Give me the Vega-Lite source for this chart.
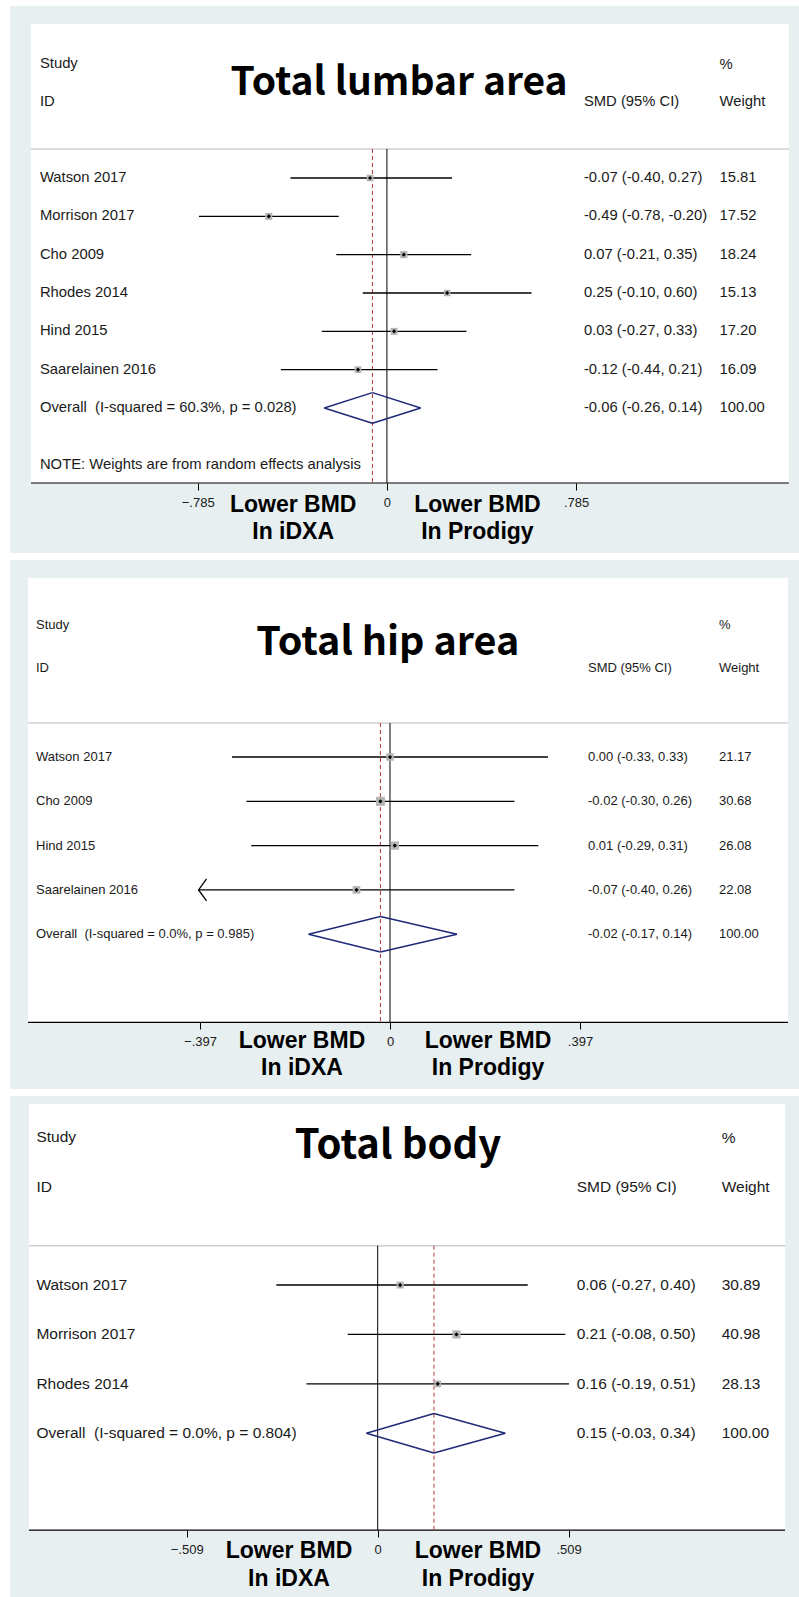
{
  "$schema": "https://vega.github.io/schema/vega-lite/v6.json",
  "background": "#ffffff",
  "padding": {"left": 10, "top": 6, "right": 0, "bottom": 0},
  "spacing": 7,
  "bounds": "flush",
  "resolve": {"scale": {"size": "independent"}},
  "config": {
    "view": {"stroke": null, "fill": "#e7eff1"},
    "axis": {"grid": false, "domain": false, "tickColor": "#000000", "tickSize": 7, "tickWidth": 1, "labelFont": "Liberation Sans", "labelFontSize": 13, "labelColor": "#1a1a1a", "labelPadding": 6, "labelFlush": false, "labelOverlap": false, "zindex": 1},
    "text": {"font": "Liberation Sans", "color": "#1a1a1a"}
  },
  "datasets": {
    "p1": [
      {"study": "Watson 2017", "est": -0.07, "lo": -0.40, "hi": 0.27, "weight": 15.81, "order": 0, "type": "study", "label": "-0.07 (-0.40, 0.27)"},
      {"study": "Morrison 2017", "est": -0.49, "lo": -0.78, "hi": -0.20, "weight": 17.52, "order": 1, "type": "study", "label": "-0.49 (-0.78, -0.20)"},
      {"study": "Cho 2009", "est": 0.07, "lo": -0.21, "hi": 0.35, "weight": 18.24, "order": 2, "type": "study", "label": "0.07 (-0.21, 0.35)"},
      {"study": "Rhodes 2014", "est": 0.25, "lo": -0.10, "hi": 0.60, "weight": 15.13, "order": 3, "type": "study", "label": "0.25 (-0.10, 0.60)"},
      {"study": "Hind 2015", "est": 0.03, "lo": -0.27, "hi": 0.33, "weight": 17.20, "order": 4, "type": "study", "label": "0.03 (-0.27, 0.33)"},
      {"study": "Saarelainen 2016", "est": -0.12, "lo": -0.44, "hi": 0.21, "weight": 16.09, "order": 5, "type": "study", "label": "-0.12 (-0.44, 0.21)"},
      {"study": "Overall\u00a0\u00a0(I-squared = 60.3%, p = 0.028)", "est": -0.06, "lo": -0.26, "hi": 0.14, "weight": 100.00, "order": 6, "type": "overall", "label": "-0.06 (-0.26, 0.14)"}
    ],
    "p2": [
      {"study": "Watson 2017", "est": 0.00, "lo": -0.33, "hi": 0.33, "weight": 21.17, "order": 0, "type": "study", "label": "0.00 (-0.33, 0.33)"},
      {"study": "Cho 2009", "est": -0.02, "lo": -0.30, "hi": 0.26, "weight": 30.68, "order": 1, "type": "study", "label": "-0.02 (-0.30, 0.26)"},
      {"study": "Hind 2015", "est": 0.01, "lo": -0.29, "hi": 0.31, "weight": 26.08, "order": 2, "type": "study", "label": "0.01 (-0.29, 0.31)"},
      {"study": "Saarelainen 2016", "est": -0.07, "lo": -0.40, "hi": 0.26, "weight": 22.08, "order": 3, "type": "study", "label": "-0.07 (-0.40, 0.26)"},
      {"study": "Overall\u00a0\u00a0(I-squared = 0.0%, p = 0.985)", "est": -0.02, "lo": -0.17, "hi": 0.14, "weight": 100.00, "order": 4, "type": "overall", "label": "-0.02 (-0.17, 0.14)"}
    ],
    "p3": [
      {"study": "Watson 2017", "est": 0.06, "lo": -0.27, "hi": 0.40, "weight": 30.89, "order": 0, "type": "study", "label": "0.06 (-0.27, 0.40)"},
      {"study": "Morrison 2017", "est": 0.21, "lo": -0.08, "hi": 0.50, "weight": 40.98, "order": 1, "type": "study", "label": "0.21 (-0.08, 0.50)"},
      {"study": "Rhodes 2014", "est": 0.16, "lo": -0.19, "hi": 0.51, "weight": 28.13, "order": 2, "type": "study", "label": "0.16 (-0.19, 0.51)"},
      {"study": "Overall\u00a0\u00a0(I-squared = 0.0%, p = 0.804)", "est": 0.15, "lo": -0.03, "hi": 0.34, "weight": 100.00, "order": 3, "type": "overall", "label": "0.15 (-0.03, 0.34)"}
    ]
  },
  "vconcat": [
    {
      "width": 789, "height": 547,
      "data": {"name": "p1"},
      "resolve": {"axis": {"x": "independent", "y": "independent"}},
      "layer": [
        {"data": {"values": [{}]}, "mark": {"type": "rect", "color": "#ffffff"},
         "encoding": {
           "x": {"datum": -1.477, "type": "quantitative", "scale": {"domain": [-1.564, 1.710], "nice": false, "zero": false},
                 "axis": {"orient": "bottom", "values": [-0.785, 0, 0.785], "labelExpr": "replace(format(datum.value, '.3~f'), '0.', '.')", "title": null, "offset": -70}},
           "x2": {"datum": 1.668},
           "y": {"datum": -4.018, "type": "quantitative", "scale": {"domain": [-4.487, 9.783], "reverse": true, "nice": false, "zero": false}, "axis": null},
           "y2": {"datum": 7.957}}},
        {"data": {"values": [{}]}, "mark": {"type": "rule", "color": "#d0d0d0", "strokeWidth": 1.5},
         "encoding": {"x": {"datum": -1.477, "type": "quantitative", "axis": null}, "x2": {"datum": 1.668}, "y": {"datum": -0.757, "type": "quantitative", "axis": null}}},
        {"data": {"values": [{}]}, "mark": {"type": "rule", "color": "#000000", "strokeWidth": 1.2},
         "encoding": {"x": {"datum": -1.477, "type": "quantitative", "axis": null}, "x2": {"datum": 1.668}, "y": {"datum": 7.957, "type": "quantitative", "axis": null}}},
        {"data": {"values": [{}]}, "mark": {"type": "rule", "color": "#000000", "strokeWidth": 1},
         "encoding": {"x": {"datum": 0, "type": "quantitative", "axis": null}, "y": {"datum": -0.757, "type": "quantitative", "axis": null}, "y2": {"datum": 7.957}}},
        {"transform": [{"filter": "datum.type == 'overall'"}], "mark": {"type": "rule", "color": "#b8363c", "strokeWidth": 1, "strokeDash": [4, 3]},
         "encoding": {"x": {"field": "est", "type": "quantitative", "axis": null}, "y": {"datum": -0.757, "type": "quantitative", "axis": null}, "y2": {"datum": 7.957}}},
        {"transform": [{"filter": "datum.type == 'study'"}], "mark": {"type": "rule", "color": "#000000", "strokeWidth": 1.3},
         "encoding": {"x": {"field": "lo", "type": "quantitative", "axis": null}, "x2": {"field": "hi"}, "y": {"field": "order", "type": "quantitative", "axis": null}}},
        {"transform": [{"filter": "datum.type == 'study'"}], "mark": {"type": "point", "shape": "square", "filled": true, "color": "#b5b5b5", "opacity": 1},
         "encoding": {"x": {"field": "est", "type": "quantitative", "axis": null}, "y": {"field": "order", "type": "quantitative", "axis": null},
                      "size": {"field": "weight", "type": "quantitative", "scale": {"domain": [0, 100], "range": [0, 280]}, "legend": null}}},
        {"transform": [{"filter": "datum.type == 'study'"}], "mark": {"type": "point", "shape": "diamond", "filled": true, "color": "#000000", "size": 18, "opacity": 1},
         "encoding": {"x": {"field": "est", "type": "quantitative", "axis": null}, "y": {"field": "order", "type": "quantitative", "axis": null}}},
        {"transform": [{"filter": "datum.type == 'overall'"}], "mark": {"type": "rule", "color": "#1f2a78", "strokeWidth": 1.5},
         "encoding": {"x": {"field": "lo", "type": "quantitative", "axis": null}, "x2": {"field": "est"}, "y": {"datum": 6, "type": "quantitative", "axis": null}, "y2": {"datum": 5.6}}},
        {"transform": [{"filter": "datum.type == 'overall'"}], "mark": {"type": "rule", "color": "#1f2a78", "strokeWidth": 1.5},
         "encoding": {"x": {"field": "est", "type": "quantitative", "axis": null}, "x2": {"field": "hi"}, "y": {"datum": 5.6, "type": "quantitative", "axis": null}, "y2": {"datum": 6}}},
        {"transform": [{"filter": "datum.type == 'overall'"}], "mark": {"type": "rule", "color": "#1f2a78", "strokeWidth": 1.5},
         "encoding": {"x": {"field": "hi", "type": "quantitative", "axis": null}, "x2": {"field": "est"}, "y": {"datum": 6, "type": "quantitative", "axis": null}, "y2": {"datum": 6.4}}},
        {"transform": [{"filter": "datum.type == 'overall'"}], "mark": {"type": "rule", "color": "#1f2a78", "strokeWidth": 1.5},
         "encoding": {"x": {"field": "est", "type": "quantitative", "axis": null}, "x2": {"field": "lo"}, "y": {"datum": 6.4, "type": "quantitative", "axis": null}, "y2": {"datum": 6}}},
        {"mark": {"type": "text", "align": "left", "baseline": "middle", "fontSize": 14.8},
         "encoding": {"x": {"datum": -1.4398, "type": "quantitative", "axis": null}, "y": {"field": "order", "type": "quantitative", "axis": null}, "text": {"field": "study"}}},
        {"mark": {"type": "text", "align": "left", "baseline": "middle", "fontSize": 14.8},
         "encoding": {"x": {"datum": 0.8174, "type": "quantitative", "axis": null}, "y": {"field": "order", "type": "quantitative", "axis": null}, "text": {"field": "label"}}},
        {"mark": {"type": "text", "align": "left", "baseline": "middle", "fontSize": 14.8},
         "encoding": {"x": {"datum": 1.38, "type": "quantitative", "axis": null}, "y": {"field": "order", "type": "quantitative", "axis": null}, "text": {"field": "weight", "type": "quantitative", "format": ".2f"}}},
        {"data": {"values": [{}]}, "mark": {"type": "text", "align": "left", "baseline": "middle", "fontSize": 14.8, "text": "Study"},
         "encoding": {"x": {"datum": -1.4398, "type": "quantitative", "axis": null}, "y": {"datum": -2.974, "type": "quantitative", "axis": null}}},
        {"data": {"values": [{}]}, "mark": {"type": "text", "align": "left", "baseline": "middle", "fontSize": 14.8, "text": "ID"},
         "encoding": {"x": {"datum": -1.4398, "type": "quantitative", "axis": null}, "y": {"datum": -1.983, "type": "quantitative", "axis": null}}},
        {"data": {"values": [{}]}, "mark": {"type": "text", "align": "left", "baseline": "middle", "fontSize": 14.8, "text": "SMD (95% CI)"},
         "encoding": {"x": {"datum": 0.8174, "type": "quantitative", "axis": null}, "y": {"datum": -1.97, "type": "quantitative", "axis": null}}},
        {"data": {"values": [{}]}, "mark": {"type": "text", "align": "left", "baseline": "middle", "fontSize": 14.8, "text": "%"},
         "encoding": {"x": {"datum": 1.38, "type": "quantitative", "axis": null}, "y": {"datum": -2.95, "type": "quantitative", "axis": null}}},
        {"data": {"values": [{}]}, "mark": {"type": "text", "align": "left", "baseline": "middle", "fontSize": 14.8, "text": "Weight"},
         "encoding": {"x": {"datum": 1.38, "type": "quantitative", "axis": null}, "y": {"datum": -1.99, "type": "quantitative", "axis": null}}},
        {"data": {"values": [{}]}, "mark": {"type": "text", "align": "left", "baseline": "middle", "fontSize": 14.8, "text": "NOTE: Weights are from random effects analysis"},
         "encoding": {"x": {"datum": -1.4398, "type": "quantitative", "axis": null}, "y": {"datum": 7.5, "type": "quantitative", "axis": null}}},
        {"data": {"values": [{}]}, "mark": {"type": "text", "align": "center", "baseline": "alphabetic", "font": "Noto Sans CJK KR", "fontWeight": "bold", "fontSize": 39, "color": "#000000", "text": "Total lumbar area"},
         "encoding": {"x": {"datum": 0.0506, "type": "quantitative", "axis": null}, "y": {"datum": -2.165, "type": "quantitative", "axis": null}}},
        {"data": {"values": [{}]}, "mark": {"type": "text", "align": "center", "baseline": "alphabetic", "font": "Liberation Sans", "fontWeight": "bold", "fontSize": 23, "lineHeight": 27, "color": "#000000", "text": ["Lower BMD", "In iDXA"]},
         "encoding": {"x": {"datum": -0.389, "type": "quantitative", "axis": null}, "y": {"datum": 8.706, "type": "quantitative", "axis": null}}},
        {"data": {"values": [{}]}, "mark": {"type": "text", "align": "center", "baseline": "alphabetic", "font": "Liberation Sans", "fontWeight": "bold", "fontSize": 23, "lineHeight": 27, "color": "#000000", "text": ["Lower BMD", "In Prodigy"]},
         "encoding": {"x": {"datum": 0.3755, "type": "quantitative", "axis": null}, "y": {"datum": 8.706, "type": "quantitative", "axis": null}}}
      ]
    },
    {
      "width": 789, "height": 529,
      "data": {"name": "p2"},
      "resolve": {"axis": {"x": "independent", "y": "independent"}},
      "layer": [
        {"data": {"values": [{}]}, "mark": {"type": "rect", "color": "#ffffff"},
         "encoding": {
           "x": {"datum": -0.7564, "type": "quantitative", "scale": {"domain": [-0.794, 0.8546], "nice": false, "zero": false},
                 "axis": {"orient": "bottom", "values": [-0.397, 0, 0.397], "labelExpr": "replace(format(datum.value, '.3~f'), '0.', '.')", "title": null, "offset": -67}},
           "x2": {"datum": 0.8317},
           "y": {"datum": -4.041, "type": "quantitative", "scale": {"domain": [-4.447, 7.494], "reverse": true, "nice": false, "zero": false}, "axis": null},
           "y2": {"datum": 5.989}}},
        {"data": {"values": [{}]}, "mark": {"type": "rule", "color": "#d0d0d0", "strokeWidth": 1.5},
         "encoding": {"x": {"datum": -0.7564, "type": "quantitative", "axis": null}, "x2": {"datum": 0.8317}, "y": {"datum": -0.767, "type": "quantitative", "axis": null}}},
        {"data": {"values": [{}]}, "mark": {"type": "rule", "color": "#000000", "strokeWidth": 1.2},
         "encoding": {"x": {"datum": -0.7564, "type": "quantitative", "axis": null}, "x2": {"datum": 0.8317}, "y": {"datum": 5.989, "type": "quantitative", "axis": null}}},
        {"data": {"values": [{}]}, "mark": {"type": "rule", "color": "#000000", "strokeWidth": 1},
         "encoding": {"x": {"datum": 0, "type": "quantitative", "axis": null}, "y": {"datum": -0.767, "type": "quantitative", "axis": null}, "y2": {"datum": 5.989}}},
        {"transform": [{"filter": "datum.type == 'overall'"}], "mark": {"type": "rule", "color": "#b8363c", "strokeWidth": 1, "strokeDash": [4, 3]},
         "encoding": {"x": {"field": "est", "type": "quantitative", "axis": null}, "y": {"datum": -0.767, "type": "quantitative", "axis": null}, "y2": {"datum": 5.989}}},
        {"transform": [{"filter": "datum.type == 'study'"}], "mark": {"type": "rule", "color": "#000000", "strokeWidth": 1.3},
         "encoding": {"x": {"field": "lo", "type": "quantitative", "axis": null}, "x2": {"field": "hi"}, "y": {"field": "order", "type": "quantitative", "axis": null}}},
        {"transform": [{"filter": "datum.type == 'study' && datum.lo < -0.397"}], "mark": {"type": "point", "shape": "M 1 -1.375 L 0 0 L 1 1.375", "filled": false, "color": "#000000", "strokeWidth": 1.3, "size": 256, "opacity": 1},
         "encoding": {"x": {"field": "lo", "type": "quantitative", "axis": null}, "y": {"field": "order", "type": "quantitative", "axis": null}}},
        {"transform": [{"filter": "datum.type == 'study'"}], "mark": {"type": "point", "shape": "square", "filled": true, "color": "#b5b5b5", "opacity": 1},
         "encoding": {"x": {"field": "est", "type": "quantitative", "axis": null}, "y": {"field": "order", "type": "quantitative", "axis": null},
                      "size": {"field": "weight", "type": "quantitative", "scale": {"domain": [0, 100], "range": [0, 264]}, "legend": null}}},
        {"transform": [{"filter": "datum.type == 'study'"}], "mark": {"type": "point", "shape": "diamond", "filled": true, "color": "#000000", "size": 18, "opacity": 1},
         "encoding": {"x": {"field": "est", "type": "quantitative", "axis": null}, "y": {"field": "order", "type": "quantitative", "axis": null}}},
        {"transform": [{"filter": "datum.type == 'overall'"}], "mark": {"type": "rule", "color": "#1f2a78", "strokeWidth": 1.5},
         "encoding": {"x": {"field": "lo", "type": "quantitative", "axis": null}, "x2": {"field": "est"}, "y": {"datum": 4, "type": "quantitative", "axis": null}, "y2": {"datum": 3.6}}},
        {"transform": [{"filter": "datum.type == 'overall'"}], "mark": {"type": "rule", "color": "#1f2a78", "strokeWidth": 1.5},
         "encoding": {"x": {"field": "est", "type": "quantitative", "axis": null}, "x2": {"field": "hi"}, "y": {"datum": 3.6, "type": "quantitative", "axis": null}, "y2": {"datum": 4}}},
        {"transform": [{"filter": "datum.type == 'overall'"}], "mark": {"type": "rule", "color": "#1f2a78", "strokeWidth": 1.5},
         "encoding": {"x": {"field": "hi", "type": "quantitative", "axis": null}, "x2": {"field": "est"}, "y": {"datum": 4, "type": "quantitative", "axis": null}, "y2": {"datum": 4.4}}},
        {"transform": [{"filter": "datum.type == 'overall'"}], "mark": {"type": "rule", "color": "#1f2a78", "strokeWidth": 1.5},
         "encoding": {"x": {"field": "est", "type": "quantitative", "axis": null}, "x2": {"field": "lo"}, "y": {"datum": 4.4, "type": "quantitative", "axis": null}, "y2": {"datum": 4}}},
        {"mark": {"type": "text", "align": "left", "baseline": "middle", "fontSize": 13},
         "encoding": {"x": {"datum": -0.7397, "type": "quantitative", "axis": null}, "y": {"field": "order", "type": "quantitative", "axis": null}, "text": {"field": "study"}}},
        {"mark": {"type": "text", "align": "left", "baseline": "middle", "fontSize": 13},
         "encoding": {"x": {"datum": 0.4137, "type": "quantitative", "axis": null}, "y": {"field": "order", "type": "quantitative", "axis": null}, "text": {"field": "label"}}},
        {"mark": {"type": "text", "align": "left", "baseline": "middle", "fontSize": 13},
         "encoding": {"x": {"datum": 0.6874, "type": "quantitative", "axis": null}, "y": {"field": "order", "type": "quantitative", "axis": null}, "text": {"field": "weight", "type": "quantitative", "format": ".2f"}}},
        {"data": {"values": [{}]}, "mark": {"type": "text", "align": "left", "baseline": "middle", "fontSize": 13, "text": "Study"},
         "encoding": {"x": {"datum": -0.7397, "type": "quantitative", "axis": null}, "y": {"datum": -2.98, "type": "quantitative", "axis": null}}},
        {"data": {"values": [{}]}, "mark": {"type": "text", "align": "left", "baseline": "middle", "fontSize": 13, "text": "ID"},
         "encoding": {"x": {"datum": -0.7397, "type": "quantitative", "axis": null}, "y": {"datum": -2.009, "type": "quantitative", "axis": null}}},
        {"data": {"values": [{}]}, "mark": {"type": "text", "align": "left", "baseline": "middle", "fontSize": 13, "text": "SMD (95% CI)"},
         "encoding": {"x": {"datum": 0.4137, "type": "quantitative", "axis": null}, "y": {"datum": -2.0, "type": "quantitative", "axis": null}}},
        {"data": {"values": [{}]}, "mark": {"type": "text", "align": "left", "baseline": "middle", "fontSize": 13, "text": "%"},
         "encoding": {"x": {"datum": 0.6874, "type": "quantitative", "axis": null}, "y": {"datum": -2.98, "type": "quantitative", "axis": null}}},
        {"data": {"values": [{}]}, "mark": {"type": "text", "align": "left", "baseline": "middle", "fontSize": 13, "text": "Weight"},
         "encoding": {"x": {"datum": 0.6874, "type": "quantitative", "axis": null}, "y": {"datum": -2.0, "type": "quantitative", "axis": null}}},
        {"data": {"values": [{}]}, "mark": {"type": "text", "align": "center", "baseline": "alphabetic", "font": "Noto Sans CJK KR", "fontWeight": "bold", "fontSize": 39.5, "color": "#000000", "text": "Total hip area"},
         "encoding": {"x": {"datum": -0.0046, "type": "quantitative", "axis": null}, "y": {"datum": -2.302, "type": "quantitative", "axis": null}}},
        {"data": {"values": [{}]}, "mark": {"type": "text", "align": "center", "baseline": "alphabetic", "font": "Liberation Sans", "fontWeight": "bold", "fontSize": 23, "lineHeight": 27, "color": "#000000", "text": ["Lower BMD", "In iDXA"]},
         "encoding": {"x": {"datum": -0.1839, "type": "quantitative", "axis": null}, "y": {"datum": 6.576, "type": "quantitative", "axis": null}}},
        {"data": {"values": [{}]}, "mark": {"type": "text", "align": "center", "baseline": "alphabetic", "font": "Liberation Sans", "fontWeight": "bold", "fontSize": 23, "lineHeight": 27, "color": "#000000", "text": ["Lower BMD", "In Prodigy"]},
         "encoding": {"x": {"datum": 0.2048, "type": "quantitative", "axis": null}, "y": {"datum": 6.576, "type": "quantitative", "axis": null}}}
      ]
    },
    {
      "width": 789, "height": 501,
      "data": {"name": "p3"},
      "resolve": {"axis": {"x": "independent", "y": "independent"}},
      "layer": [
        {"data": {"values": [{}]}, "mark": {"type": "rect", "color": "#ffffff"},
         "encoding": {
           "x": {"datum": -0.9294, "type": "quantitative", "scale": {"domain": [-0.98, 1.1229], "nice": false, "zero": false},
                 "axis": {"orient": "bottom", "values": [-0.509, 0, 0.509], "labelExpr": "replace(format(datum.value, '.3~f'), '0.', '.')", "title": null, "offset": -67}},
           "x2": {"datum": 1.0856},
           "y": {"datum": -3.662, "type": "quantitative", "scale": {"domain": [-3.824, 6.312], "reverse": true, "nice": false, "zero": false}, "axis": null},
           "y2": {"datum": 4.957}}},
        {"data": {"values": [{}]}, "mark": {"type": "rule", "color": "#d0d0d0", "strokeWidth": 1.5},
         "encoding": {"x": {"datum": -0.9294, "type": "quantitative", "axis": null}, "x2": {"datum": 1.0856}, "y": {"datum": -0.795, "type": "quantitative", "axis": null}}},
        {"data": {"values": [{}]}, "mark": {"type": "rule", "color": "#000000", "strokeWidth": 1.2},
         "encoding": {"x": {"datum": -0.9294, "type": "quantitative", "axis": null}, "x2": {"datum": 1.0856}, "y": {"datum": 4.957, "type": "quantitative", "axis": null}}},
        {"data": {"values": [{}]}, "mark": {"type": "rule", "color": "#000000", "strokeWidth": 1},
         "encoding": {"x": {"datum": 0, "type": "quantitative", "axis": null}, "y": {"datum": -0.795, "type": "quantitative", "axis": null}, "y2": {"datum": 4.957}}},
        {"transform": [{"filter": "datum.type == 'overall'"}], "mark": {"type": "rule", "color": "#b8363c", "strokeWidth": 1, "strokeDash": [4, 3]},
         "encoding": {"x": {"field": "est", "type": "quantitative", "axis": null}, "y": {"datum": -0.795, "type": "quantitative", "axis": null}, "y2": {"datum": 4.957}}},
        {"transform": [{"filter": "datum.type == 'study'"}], "mark": {"type": "rule", "color": "#000000", "strokeWidth": 1.3},
         "encoding": {"x": {"field": "lo", "type": "quantitative", "axis": null}, "x2": {"field": "hi"}, "y": {"field": "order", "type": "quantitative", "axis": null}}},
        {"transform": [{"filter": "datum.type == 'study'"}], "mark": {"type": "point", "shape": "square", "filled": true, "color": "#b5b5b5", "opacity": 1},
         "encoding": {"x": {"field": "est", "type": "quantitative", "axis": null}, "y": {"field": "order", "type": "quantitative", "axis": null},
                      "size": {"field": "weight", "type": "quantitative", "scale": {"domain": [0, 100], "range": [0, 160]}, "legend": null}}},
        {"transform": [{"filter": "datum.type == 'study'"}], "mark": {"type": "point", "shape": "diamond", "filled": true, "color": "#000000", "size": 18, "opacity": 1},
         "encoding": {"x": {"field": "est", "type": "quantitative", "axis": null}, "y": {"field": "order", "type": "quantitative", "axis": null}}},
        {"transform": [{"filter": "datum.type == 'overall'"}], "mark": {"type": "rule", "color": "#1f2a78", "strokeWidth": 1.5},
         "encoding": {"x": {"field": "lo", "type": "quantitative", "axis": null}, "x2": {"field": "est"}, "y": {"datum": 3, "type": "quantitative", "axis": null}, "y2": {"datum": 2.6}}},
        {"transform": [{"filter": "datum.type == 'overall'"}], "mark": {"type": "rule", "color": "#1f2a78", "strokeWidth": 1.5},
         "encoding": {"x": {"field": "est", "type": "quantitative", "axis": null}, "x2": {"field": "hi"}, "y": {"datum": 2.6, "type": "quantitative", "axis": null}, "y2": {"datum": 3}}},
        {"transform": [{"filter": "datum.type == 'overall'"}], "mark": {"type": "rule", "color": "#1f2a78", "strokeWidth": 1.5},
         "encoding": {"x": {"field": "hi", "type": "quantitative", "axis": null}, "x2": {"field": "est"}, "y": {"datum": 3, "type": "quantitative", "axis": null}, "y2": {"datum": 3.4}}},
        {"transform": [{"filter": "datum.type == 'overall'"}], "mark": {"type": "rule", "color": "#1f2a78", "strokeWidth": 1.5},
         "encoding": {"x": {"field": "est", "type": "quantitative", "axis": null}, "x2": {"field": "lo"}, "y": {"datum": 3.4, "type": "quantitative", "axis": null}, "y2": {"datum": 3}}},
        {"mark": {"type": "text", "align": "left", "baseline": "middle", "fontSize": 15.5},
         "encoding": {"x": {"datum": -0.9096, "type": "quantitative", "axis": null}, "y": {"field": "order", "type": "quantitative", "axis": null}, "text": {"field": "study"}}},
        {"mark": {"type": "text", "align": "left", "baseline": "middle", "fontSize": 15.5},
         "encoding": {"x": {"datum": 0.5304, "type": "quantitative", "axis": null}, "y": {"field": "order", "type": "quantitative", "axis": null}, "text": {"field": "label"}}},
        {"mark": {"type": "text", "align": "left", "baseline": "middle", "fontSize": 15.5},
         "encoding": {"x": {"datum": 0.9168, "type": "quantitative", "axis": null}, "y": {"field": "order", "type": "quantitative", "axis": null}, "text": {"field": "weight", "type": "quantitative", "format": ".2f"}}},
        {"data": {"values": [{}]}, "mark": {"type": "text", "align": "left", "baseline": "middle", "fontSize": 15.5, "text": "Study"},
         "encoding": {"x": {"datum": -0.9096, "type": "quantitative", "axis": null}, "y": {"datum": -2.994, "type": "quantitative", "axis": null}}},
        {"data": {"values": [{}]}, "mark": {"type": "text", "align": "left", "baseline": "middle", "fontSize": 15.5, "text": "ID"},
         "encoding": {"x": {"datum": -0.9096, "type": "quantitative", "axis": null}, "y": {"datum": -1.983, "type": "quantitative", "axis": null}}},
        {"data": {"values": [{}]}, "mark": {"type": "text", "align": "left", "baseline": "middle", "fontSize": 15.5, "text": "SMD (95% CI)"},
         "encoding": {"x": {"datum": 0.5304, "type": "quantitative", "axis": null}, "y": {"datum": -1.989, "type": "quantitative", "axis": null}}},
        {"data": {"values": [{}]}, "mark": {"type": "text", "align": "left", "baseline": "middle", "fontSize": 15.5, "text": "%"},
         "encoding": {"x": {"datum": 0.9168, "type": "quantitative", "axis": null}, "y": {"datum": -2.968, "type": "quantitative", "axis": null}}},
        {"data": {"values": [{}]}, "mark": {"type": "text", "align": "left", "baseline": "middle", "fontSize": 15.5, "text": "Weight"},
         "encoding": {"x": {"datum": 0.9168, "type": "quantitative", "axis": null}, "y": {"datum": -1.989, "type": "quantitative", "axis": null}}},
        {"data": {"values": [{}]}, "mark": {"type": "text", "align": "center", "baseline": "alphabetic", "font": "Noto Sans CJK KR", "fontWeight": "bold", "fontSize": 40, "color": "#000000", "text": "Total body"},
         "encoding": {"x": {"datum": 0.0541, "type": "quantitative", "axis": null}, "y": {"datum": -2.563, "type": "quantitative", "axis": null}}},
        {"data": {"values": [{}]}, "mark": {"type": "text", "align": "center", "baseline": "alphabetic", "font": "Liberation Sans", "fontWeight": "bold", "fontSize": 23, "lineHeight": 28, "color": "#000000", "text": ["Lower BMD", "In iDXA"]},
         "encoding": {"x": {"datum": -0.2364, "type": "quantitative", "axis": null}, "y": {"datum": 5.529, "type": "quantitative", "axis": null}}},
        {"data": {"values": [{}]}, "mark": {"type": "text", "align": "center", "baseline": "alphabetic", "font": "Liberation Sans", "fontWeight": "bold", "fontSize": 23, "lineHeight": 28, "color": "#000000", "text": ["Lower BMD", "In Prodigy"]},
         "encoding": {"x": {"datum": 0.2673, "type": "quantitative", "axis": null}, "y": {"datum": 5.529, "type": "quantitative", "axis": null}}}
      ]
    }
  ]
}
